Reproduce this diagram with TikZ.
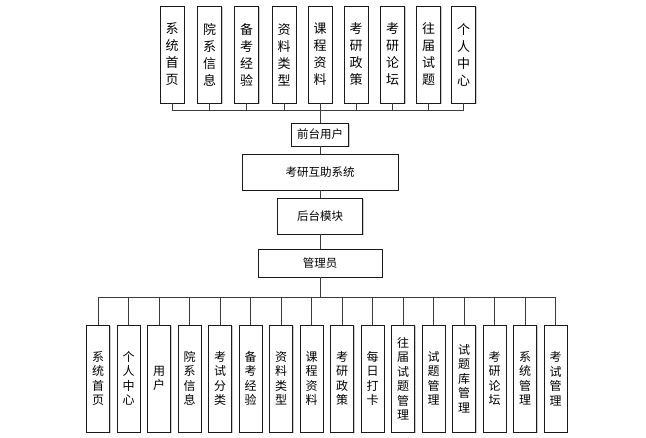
\documentclass[tikz,border=0pt]{standalone}
\usepackage{fontspec}
\setmainfont{Noto Sans CJK SC}
\usetikzlibrary{positioning,shadows}
\definecolor{ink}{HTML}{1A1A1A}
\definecolor{wire}{HTML}{3C3C3C}
\definecolor{shade}{HTML}{BDBDBD}
\tikzset{
  box/.style={draw=ink,line width=0.9pt,fill=white,inner sep=0pt,align=center,
    drop shadow={shadow xshift=1.4pt,shadow yshift=-1.4pt,fill=shade,opacity=0.8}},
  topbox/.style={box,minimum width=24,minimum height=97,font=\fontsize{13}{17}\selectfont},
  lowbox/.style={box,minimum width=23,minimum height=107,font=\fontsize{12}{14.5}\selectfont},
  midbox/.style={box,font=\fontsize{11.5}{14}\selectfont},
  link/.style={wire,line width=0.9pt}
}

\begin{document}
\begin{tikzpicture}[x=1pt,y=-1pt]
  \useasboundingbox (0,0) rectangle (646,438);
  % front-end pages
  \foreach \x/\lab [count=\i] in {172/系\\统\\首\\页,209.5/院\\系\\信\\息,246.5/备\\考\\经\\验,
      284/资\\料\\类\\型,320/课\\程\\资\\料,356/考\\研\\政\\策,392.5/考\\研\\论\\坛,
      428.5/往\\届\\试\\题,463.5/个\\人\\中\\心} {
    \node[topbox] (t\i) at (\x,54.5) {\lab};
  }
  \node[midbox,minimum width=57,minimum height=23] (front) at (320,134.5) {前台用户};
  \node[midbox,minimum width=156,minimum height=36] (sys) at (320,172) {考研互助系统};
  \node[midbox,minimum width=85,minimum height=36] (back) at (320,216) {后台模块};
  \node[midbox,minimum width=124,minimum height=28] (admin) at (320,263) {管理员};
  % back-end pages
  \foreach \lab [count=\i] in {系\\统\\首\\页,个\\人\\中\\心,用\\户,院\\系\\信\\息,
      考\\试\\分\\类,备\\考\\经\\验,资\\料\\类\\型,课\\程\\资\\料,考\\研\\政\\策,
      每\\日\\打\\卡,往\\届\\试\\题\\管\\理,试\\题\\管\\理,试\\题\\库\\管\\理,
      考\\研\\论\\坛,系\\统\\管\\理,考\\试\\管\\理} {
    \node[lowbox] (b\i) at ({98+30.5*(\i-1)},378.5) {\lab};
  }
  % wiring
  \coordinate (topbus) at (320,110);
  \coordinate (lowbus) at (320,297);
  \foreach \i in {1,...,9}
    \draw[link] (t\i.south) -- (t\i.south |- topbus);
  \draw[link] (t1.south |- topbus) -- (t9.south |- topbus);
  \draw[link] (topbus) -- (front.north);
  \draw[link] (front.south) -- (sys.north);
  \draw[link] (sys.south) -- (back.north);
  \draw[link] (back.south) -- (admin.north);
  \draw[link] (admin.south) -- (lowbus);
  \draw[link] (b1.north |- lowbus) -- (b16.north |- lowbus);
  \foreach \i in {1,...,16}
    \draw[link] (b\i.north |- lowbus) -- (b\i.north);
\end{tikzpicture}
\end{document}
